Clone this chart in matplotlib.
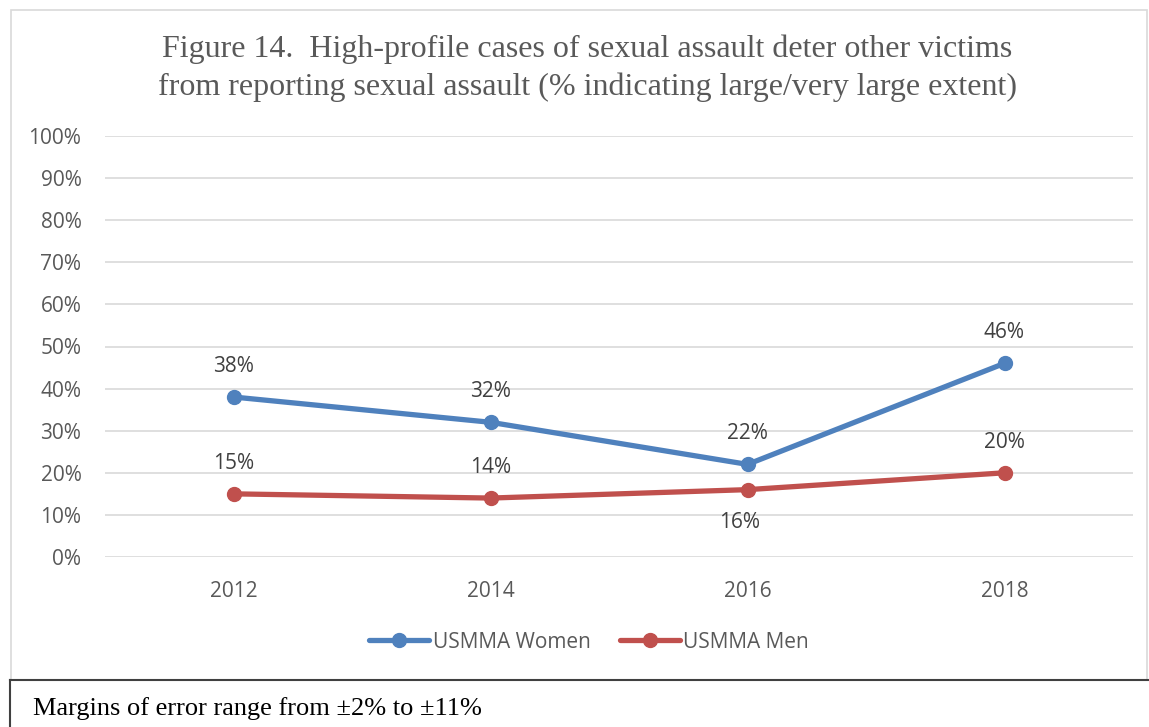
import matplotlib
matplotlib.use("Agg")
import matplotlib.pyplot as plt
from matplotlib.patches import Rectangle
from matplotlib.lines import Line2D

years = ["2012", "2014", "2016", "2018"]
women = [38, 32, 22, 46]
men = [15, 14, 16, 20]
yticks = [0, 10, 20, 30, 40, 50, 60, 70, 80, 90, 100]
title = "Figure 14.  High-profile cases of sexual assault deter other victims\nfrom reporting sexual assault (% indicating large/very large extent)"
note = "Margins of error range from \u00b12% to \u00b111%"

W, H = 1149, 727
fig = plt.figure(figsize=(W / 100, H / 100), dpi=100)

def fx(px):
    return px / W

def fy(py):
    return 1 - py / H

# outer chart frame
fig.patches.append(Rectangle((fx(11), fy(680)), fx(1147) - fx(11), fy(10) - fy(680),
                             transform=fig.transFigure, fill=False, edgecolor="#d9d9d9", lw=1.2))
# note box lines
fig.lines.append(Line2D([fx(10), fx(1149)], [fy(680), fy(680)], transform=fig.transFigure, color="#404040", lw=1.5))
fig.lines.append(Line2D([fx(10), fx(10)], [fy(680), fy(727)], transform=fig.transFigure, color="#404040", lw=1.5))

ax = fig.add_axes([fx(105), fy(557), fx(1133) - fx(105), fy(136) - fy(557)])
x = list(range(len(years)))
blue = "#4F81BD"
red = "#C0504D"
ax.plot(x, women, color=blue, lw=3.8, marker="o", ms=10, solid_capstyle="round", label="USMMA Women", zorder=3)
ax.plot(x, men, color=red, lw=3.8, marker="o", ms=10, solid_capstyle="round", label="USMMA Men", zorder=3)

ax.set_xlim(-0.5, len(years) - 0.5)
ax.set_ylim(0, 100)
ax.set_yticks(yticks)
ax.set_yticklabels([f"{v}%" for v in yticks])
ax.set_xticks(x)
ax.set_xticklabels(years)
ax.grid(axis="y", color="#d9d9d9", lw=1.2)
ax.set_axisbelow(True)
for s in ax.spines.values():
    s.set_visible(False)
ax.tick_params(axis="both", length=0, labelsize=15, labelcolor="#595959", pad=0)
ax.tick_params(axis="y", pad=17)
ax.tick_params(axis="x", pad=17)
for lab in ax.get_xticklabels() + ax.get_yticklabels():
    lab.set_fontfamily("Open Sans")

lab_kw = dict(fontsize=15, color="#404040", family="Open Sans", ha="center", va="center")
for i, v in enumerate(women):
    ax.annotate(f"{v}%", (i, v), xytext=(0, 22), textcoords="offset points", **lab_kw)
for i, v in enumerate(men):
    if i == 2:
        ax.annotate(f"{v}%", (i, v), xytext=(-6, -24), textcoords="offset points", **lab_kw)
    else:
        ax.annotate(f"{v}%", (i, v), xytext=(0, 22), textcoords="offset points", **lab_kw)

fig.text(fx(587), fy(68), title, ha="center", va="center", family="Liberation Serif",
         fontsize=23, color="#595959", linespacing=1.38)

leg = fig.legend(loc="center", bbox_to_anchor=(fx(589), fy(642)), ncol=2, frameon=False,
                 prop={"family": "Open Sans", "size": 15}, handlelength=2.9, columnspacing=1.4,
                 handletextpad=0.15)
for t in leg.get_texts():
    t.set_color("#595959")

fig.text(fx(33), fy(709), note, ha="left", va="center", family="Liberation Serif", fontsize=19, color="black")

fig.savefig("out.png", dpi=100)
